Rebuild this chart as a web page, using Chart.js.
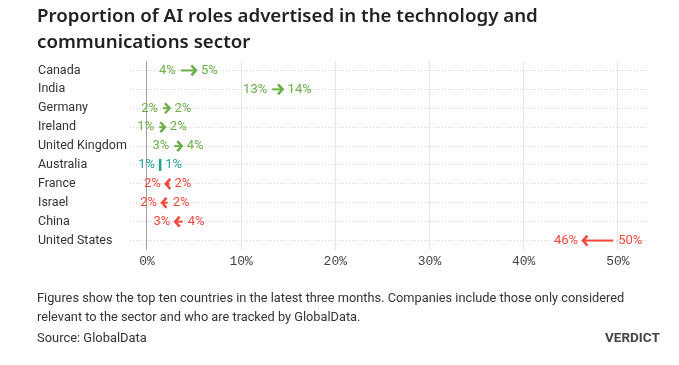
<!DOCTYPE html>
<html>
<head>
<meta charset="utf-8">
<script src="https://cdn.jsdelivr.net/npm/chart.js@4"></script>
<style>
  body { margin: 0; background: #fff; }
  #wrap { position: relative; width: 679px; height: 365px; overflow: hidden; }
  #chart { position: absolute; left: 0; top: 0; }
  .txt { position: absolute; color: #333; white-space: nowrap; transform-origin: 0 0; }
  #title { left: 37px; top: 2px; font: 600 18.7px "Noto Sans", sans-serif; line-height: 26px; color: #222; }
  #note { left: 37px; top: 288px; font: 13.5px Roboto, sans-serif; line-height: 19px; }
  #source { left: 37px; top: 329px; font: 13.5px Roboto, sans-serif; }
  #brand { left: 605px; top: 329px; font: bold 13.5px Roboto, sans-serif; color: #444; }
</style>
</head>
<body>
<div id="wrap">
  <canvas id="chart" width="679" height="365"></canvas>
  <div class="txt" id="title">Proportion of AI roles advertised in the technology and<br>communications sector</div>
  <div class="txt" id="note">Figures show the top ten countries in the latest three months. Companies include those only considered<br>relevant to the sector and who are tracked by GlobalData.</div>
  <div class="txt" id="source">Source: GlobalData</div>
  <div class="txt" id="brand">VERDICT</div>
</div>
<script>
// data (percent)
const countries = ["Canada", "India", "Germany", "Ireland", "United Kingdom",
  "Australia", "France", "Israel", "China", "United States"];
const previous = [3.6, 13.3, 1.7, 1.3, 2.9, 1.4, 2.4, 2.2, 3.8, 49.5];
const latest = [5.2, 14.4, 2.4, 1.9, 3.7, 1.4, 2.0, 1.6, 3.0, 46.3];
const xTicks = [0, 10, 20, 30, 40, 50];

const UP = "#6aaf46";
const DOWN = "#f2483a";
const SAME = "#1ea39c";

// the reference uses a condensed face for the notes, squeeze to match
function squeeze(id, width) {
  const el = document.getElementById(id);
  el.style.transform = "scaleX(" + (width / el.scrollWidth) + ")";
}
squeeze("note", 587);
squeeze("source", 110);
squeeze("brand", 55);

// draws an arrow per row, from previous to latest value, with labels either side
const arrowPlugin = {
  id: "arrows",
  afterDatasetsDraw(chart) {
    const { ctx, scales: { x, y } } = chart;
    ctx.save();
    ctx.font = "13px Roboto, sans-serif";
    ctx.textBaseline = "middle";
    previous.forEach((prev, i) => {
      const cur = latest[i];
      const py = y.getPixelForValue(i);
      const x1 = x.getPixelForValue(prev);
      const x2 = x.getPixelForValue(cur);
      const color = cur > prev ? UP : cur < prev ? DOWN : SAME;
      ctx.strokeStyle = color;
      ctx.fillStyle = color;
      ctx.lineWidth = 2;

      if (cur === prev) {
        ctx.lineWidth = 2.5;
        ctx.beginPath();
        ctx.moveTo(x1, py - 6);
        ctx.lineTo(x1, py + 6);
        ctx.stroke();
      } else {
        const dir = cur > prev ? 1 : -1;
        ctx.beginPath();
        ctx.moveTo(x1, py);
        ctx.lineTo(x2, py);
        ctx.stroke();
        // head
        ctx.lineWidth = 2.5;
        ctx.beginPath();
        ctx.moveTo(x2 - dir * 4.5, py - 5);
        ctx.lineTo(x2, py);
        ctx.lineTo(x2 - dir * 4.5, py + 5);
        ctx.stroke();
      }

      const lo = Math.min(x1, x2);
      const hi = Math.max(x1, x2);
      const loVal = Math.min(prev, cur);
      const hiVal = Math.max(prev, cur);
      ctx.textAlign = "right";
      ctx.fillText(Math.round(loVal) + "%", lo - 5, py);
      ctx.textAlign = "left";
      ctx.fillText(Math.round(hiVal) + "%", hi + 5, py);
    });
    ctx.restore();
  }
};

new Chart(document.getElementById("chart"), {
  type: "bar",
  data: {
    labels: countries,
    datasets: [{
      label: "Change",
      data: previous.map((p, i) => [p, latest[i]]),
      backgroundColor: "rgba(0,0,0,0)",
      borderWidth: 0
    }]
  },
  options: {
    indexAxis: "y",
    responsive: false,
    animation: false,
    layout: { padding: { top: 61, left: 38, right: 31, bottom: 93 } },
    plugins: {
      legend: { display: false },
      tooltip: { enabled: false }
    },
    scales: {
      x: {
        min: -1.8,
        max: 53.2,
        afterBuildTicks: (scale) => { scale.ticks = xTicks.map(v => ({ value: v })); },
        afterFit: (scale) => { scale.height = 22; },
        border: { display: false },
        grid: {
          drawTicks: false,
          color: (c) => c.tick && c.tick.value === 0 ? "#a0a0a0" : "#e6e6e6",
          lineWidth: 1
        },
        ticks: {
          padding: 4,
          color: "#444",
          font: { family: "'Liberation Mono', monospace", size: 13 },
          callback: (v) => v + "%"
        }
      },
      y: {
        afterFit: (scale) => { scale.width = 92; },
        border: { display: false, dash: [1, 2] },
        grid: {
          offset: false,
          drawTicks: false,
          color: "#d4d4d4",
          lineWidth: 1
        },
        ticks: {
          crossAlign: "far",
          padding: 0,
          color: "#333",
          font: { family: "Roboto, sans-serif", size: 12.5 }
        }
      }
    }
  },
  plugins: [arrowPlugin]
});
</script>
</body>
</html>
